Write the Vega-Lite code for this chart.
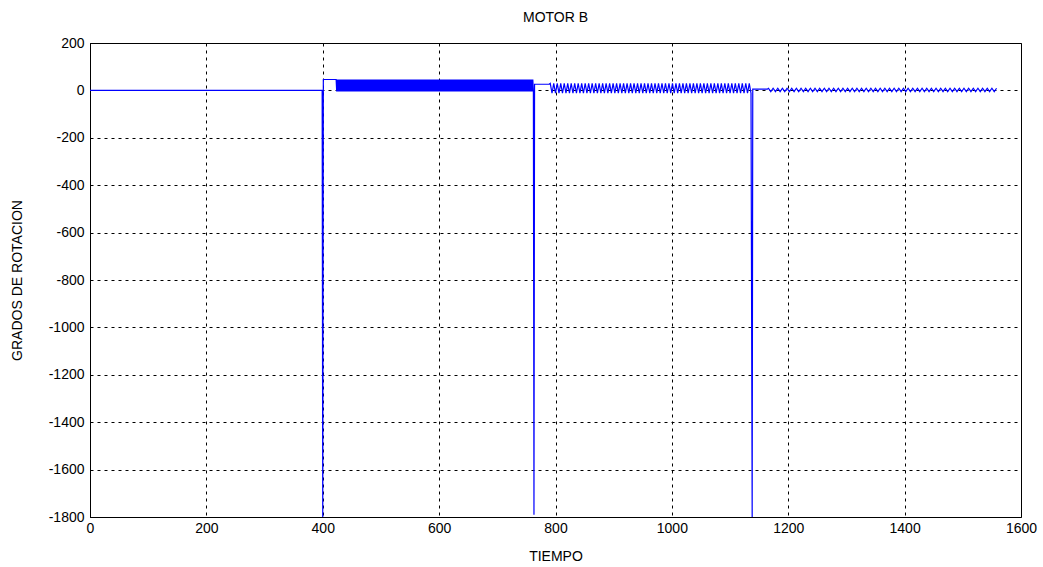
{
"$schema": "https://vega.github.io/schema/vega-lite/v6.json",
"width": 931, "height": 474,
"autosize": {"type": "none"},
"padding": {"left": 90, "top": 43, "right": 22, "bottom": 50},
"background": "white",
"config": {"font": "Liberation Sans", "view": {"stroke": "black", "strokeWidth": 1}},
"title": {"text": "MOTOR B", "fontSize": 14, "fontWeight": "normal", "font": "Liberation Sans", "color": "black", "offset": 11, "anchor": "middle"},
"data": {"values": [
{"t":0,"v":0},{"t":399,"v":0},{"t":400,"v":-1800},{"t":401,"v":46},{"t":423,"v":46},
{"t":424,"v":-4},{"t":425,"v":46},{"t":426,"v":-4},{"t":427,"v":46},{"t":428,"v":-4},{"t":429,"v":46},{"t":430,"v":-4},{"t":431,"v":46},{"t":432,"v":-4},{"t":433,"v":46},
{"t":434,"v":-4},{"t":435,"v":46},{"t":436,"v":-4},{"t":437,"v":46},{"t":438,"v":-4},{"t":439,"v":46},{"t":440,"v":-4},{"t":441,"v":46},{"t":442,"v":-4},{"t":443,"v":46},
{"t":444,"v":-4},{"t":445,"v":46},{"t":446,"v":-4},{"t":447,"v":46},{"t":448,"v":-4},{"t":449,"v":46},{"t":450,"v":-4},{"t":451,"v":46},{"t":452,"v":-4},{"t":453,"v":46},
{"t":454,"v":-4},{"t":455,"v":46},{"t":456,"v":-4},{"t":457,"v":46},{"t":458,"v":-4},{"t":459,"v":46},{"t":460,"v":-4},{"t":461,"v":46},{"t":462,"v":-4},{"t":463,"v":46},
{"t":464,"v":-4},{"t":465,"v":46},{"t":466,"v":-4},{"t":467,"v":46},{"t":468,"v":-4},{"t":469,"v":46},{"t":470,"v":-4},{"t":471,"v":46},{"t":472,"v":-4},{"t":473,"v":46},
{"t":474,"v":-4},{"t":475,"v":46},{"t":476,"v":-4},{"t":477,"v":46},{"t":478,"v":-4},{"t":479,"v":46},{"t":480,"v":-4},{"t":481,"v":46},{"t":482,"v":-4},{"t":483,"v":46},
{"t":484,"v":-4},{"t":485,"v":46},{"t":486,"v":-4},{"t":487,"v":46},{"t":488,"v":-4},{"t":489,"v":46},{"t":490,"v":-4},{"t":491,"v":46},{"t":492,"v":-4},{"t":493,"v":46},
{"t":494,"v":-4},{"t":495,"v":46},{"t":496,"v":-4},{"t":497,"v":46},{"t":498,"v":-4},{"t":499,"v":46},{"t":500,"v":-4},{"t":501,"v":46},{"t":502,"v":-4},{"t":503,"v":46},
{"t":504,"v":-4},{"t":505,"v":46},{"t":506,"v":-4},{"t":507,"v":46},{"t":508,"v":-4},{"t":509,"v":46},{"t":510,"v":-4},{"t":511,"v":46},{"t":512,"v":-4},{"t":513,"v":46},
{"t":514,"v":-4},{"t":515,"v":46},{"t":516,"v":-4},{"t":517,"v":46},{"t":518,"v":-4},{"t":519,"v":46},{"t":520,"v":-4},{"t":521,"v":46},{"t":522,"v":-4},{"t":523,"v":46},
{"t":524,"v":-4},{"t":525,"v":46},{"t":526,"v":-4},{"t":527,"v":46},{"t":528,"v":-4},{"t":529,"v":46},{"t":530,"v":-4},{"t":531,"v":46},{"t":532,"v":-4},{"t":533,"v":46},
{"t":534,"v":-4},{"t":535,"v":46},{"t":536,"v":-4},{"t":537,"v":46},{"t":538,"v":-4},{"t":539,"v":46},{"t":540,"v":-4},{"t":541,"v":46},{"t":542,"v":-4},{"t":543,"v":46},
{"t":544,"v":-4},{"t":545,"v":46},{"t":546,"v":-4},{"t":547,"v":46},{"t":548,"v":-4},{"t":549,"v":46},{"t":550,"v":-4},{"t":551,"v":46},{"t":552,"v":-4},{"t":553,"v":46},
{"t":554,"v":-4},{"t":555,"v":46},{"t":556,"v":-4},{"t":557,"v":46},{"t":558,"v":-4},{"t":559,"v":46},{"t":560,"v":-4},{"t":561,"v":46},{"t":562,"v":-4},{"t":563,"v":46},
{"t":564,"v":-4},{"t":565,"v":46},{"t":566,"v":-4},{"t":567,"v":46},{"t":568,"v":-4},{"t":569,"v":46},{"t":570,"v":-4},{"t":571,"v":46},{"t":572,"v":-4},{"t":573,"v":46},
{"t":574,"v":-4},{"t":575,"v":46},{"t":576,"v":-4},{"t":577,"v":46},{"t":578,"v":-4},{"t":579,"v":46},{"t":580,"v":-4},{"t":581,"v":46},{"t":582,"v":-4},{"t":583,"v":46},
{"t":584,"v":-4},{"t":585,"v":46},{"t":586,"v":-4},{"t":587,"v":46},{"t":588,"v":-4},{"t":589,"v":46},{"t":590,"v":-4},{"t":591,"v":46},{"t":592,"v":-4},{"t":593,"v":46},
{"t":594,"v":-4},{"t":595,"v":46},{"t":596,"v":-4},{"t":597,"v":46},{"t":598,"v":-4},{"t":599,"v":46},{"t":600,"v":-4},{"t":601,"v":46},{"t":602,"v":-4},{"t":603,"v":46},
{"t":604,"v":-4},{"t":605,"v":46},{"t":606,"v":-4},{"t":607,"v":46},{"t":608,"v":-4},{"t":609,"v":46},{"t":610,"v":-4},{"t":611,"v":46},{"t":612,"v":-4},{"t":613,"v":46},
{"t":614,"v":-4},{"t":615,"v":46},{"t":616,"v":-4},{"t":617,"v":46},{"t":618,"v":-4},{"t":619,"v":46},{"t":620,"v":-4},{"t":621,"v":46},{"t":622,"v":-4},{"t":623,"v":46},
{"t":624,"v":-4},{"t":625,"v":46},{"t":626,"v":-4},{"t":627,"v":46},{"t":628,"v":-4},{"t":629,"v":46},{"t":630,"v":-4},{"t":631,"v":46},{"t":632,"v":-4},{"t":633,"v":46},
{"t":634,"v":-4},{"t":635,"v":46},{"t":636,"v":-4},{"t":637,"v":46},{"t":638,"v":-4},{"t":639,"v":46},{"t":640,"v":-4},{"t":641,"v":46},{"t":642,"v":-4},{"t":643,"v":46},
{"t":644,"v":-4},{"t":645,"v":46},{"t":646,"v":-4},{"t":647,"v":46},{"t":648,"v":-4},{"t":649,"v":46},{"t":650,"v":-4},{"t":651,"v":46},{"t":652,"v":-4},{"t":653,"v":46},
{"t":654,"v":-4},{"t":655,"v":46},{"t":656,"v":-4},{"t":657,"v":46},{"t":658,"v":-4},{"t":659,"v":46},{"t":660,"v":-4},{"t":661,"v":46},{"t":662,"v":-4},{"t":663,"v":46},
{"t":664,"v":-4},{"t":665,"v":46},{"t":666,"v":-4},{"t":667,"v":46},{"t":668,"v":-4},{"t":669,"v":46},{"t":670,"v":-4},{"t":671,"v":46},{"t":672,"v":-4},{"t":673,"v":46},
{"t":674,"v":-4},{"t":675,"v":46},{"t":676,"v":-4},{"t":677,"v":46},{"t":678,"v":-4},{"t":679,"v":46},{"t":680,"v":-4},{"t":681,"v":46},{"t":682,"v":-4},{"t":683,"v":46},
{"t":684,"v":-4},{"t":685,"v":46},{"t":686,"v":-4},{"t":687,"v":46},{"t":688,"v":-4},{"t":689,"v":46},{"t":690,"v":-4},{"t":691,"v":46},{"t":692,"v":-4},{"t":693,"v":46},
{"t":694,"v":-4},{"t":695,"v":46},{"t":696,"v":-4},{"t":697,"v":46},{"t":698,"v":-4},{"t":699,"v":46},{"t":700,"v":-4},{"t":701,"v":46},{"t":702,"v":-4},{"t":703,"v":46},
{"t":704,"v":-4},{"t":705,"v":46},{"t":706,"v":-4},{"t":707,"v":46},{"t":708,"v":-4},{"t":709,"v":46},{"t":710,"v":-4},{"t":711,"v":46},{"t":712,"v":-4},{"t":713,"v":46},
{"t":714,"v":-4},{"t":715,"v":46},{"t":716,"v":-4},{"t":717,"v":46},{"t":718,"v":-4},{"t":719,"v":46},{"t":720,"v":-4},{"t":721,"v":46},{"t":722,"v":-4},{"t":723,"v":46},
{"t":724,"v":-4},{"t":725,"v":46},{"t":726,"v":-4},{"t":727,"v":46},{"t":728,"v":-4},{"t":729,"v":46},{"t":730,"v":-4},{"t":731,"v":46},{"t":732,"v":-4},{"t":733,"v":46},
{"t":734,"v":-4},{"t":735,"v":46},{"t":736,"v":-4},{"t":737,"v":46},{"t":738,"v":-4},{"t":739,"v":46},{"t":740,"v":-4},{"t":741,"v":46},{"t":742,"v":-4},{"t":743,"v":46},
{"t":744,"v":-4},{"t":745,"v":46},{"t":746,"v":-4},{"t":747,"v":46},{"t":748,"v":-4},{"t":749,"v":46},{"t":750,"v":-4},{"t":751,"v":46},{"t":752,"v":-4},{"t":753,"v":46},
{"t":754,"v":-4},{"t":755,"v":46},{"t":756,"v":-4},{"t":757,"v":46},{"t":758,"v":-4},{"t":759,"v":46},{"t":760,"v":-4},{"t":761,"v":46},{"t":762,"v":-4},
{"t":763,"v":-1790},{"t":764,"v":26},{"t":789,"v":26},
{"t":791,"v":30},{"t":794,"v":-12},{"t":797,"v":30},{"t":800,"v":-12},{"t":803,"v":30},{"t":806,"v":-12},{"t":809,"v":30},{"t":812,"v":-12},{"t":815,"v":30},{"t":818,"v":-12},
{"t":821,"v":30},{"t":824,"v":-12},{"t":827,"v":30},{"t":830,"v":-12},{"t":833,"v":30},{"t":836,"v":-12},{"t":839,"v":30},{"t":842,"v":-12},{"t":845,"v":30},{"t":848,"v":-12},
{"t":851,"v":30},{"t":854,"v":-12},{"t":857,"v":30},{"t":860,"v":-12},{"t":863,"v":30},{"t":866,"v":-12},{"t":869,"v":30},{"t":872,"v":-12},{"t":875,"v":30},{"t":878,"v":-12},
{"t":881,"v":30},{"t":884,"v":-12},{"t":887,"v":30},{"t":890,"v":-12},{"t":893,"v":30},{"t":896,"v":-12},{"t":899,"v":30},{"t":902,"v":-12},{"t":905,"v":30},{"t":908,"v":-12},
{"t":911,"v":30},{"t":914,"v":-12},{"t":917,"v":30},{"t":920,"v":-12},{"t":923,"v":30},{"t":926,"v":-12},{"t":929,"v":30},{"t":932,"v":-12},{"t":935,"v":30},{"t":938,"v":-12},
{"t":941,"v":30},{"t":944,"v":-12},{"t":947,"v":30},{"t":950,"v":-12},{"t":953,"v":30},{"t":956,"v":-12},{"t":959,"v":30},{"t":962,"v":-12},{"t":965,"v":30},{"t":968,"v":-12},
{"t":971,"v":30},{"t":974,"v":-12},{"t":977,"v":30},{"t":980,"v":-12},{"t":983,"v":30},{"t":986,"v":-12},{"t":989,"v":30},{"t":992,"v":-12},{"t":995,"v":30},{"t":998,"v":-12},
{"t":1001,"v":30},{"t":1004,"v":-12},{"t":1007,"v":30},{"t":1010,"v":-12},{"t":1013,"v":30},{"t":1016,"v":-12},{"t":1019,"v":30},{"t":1022,"v":-12},{"t":1025,"v":30},{"t":1028,"v":-12},
{"t":1031,"v":30},{"t":1034,"v":-12},{"t":1037,"v":30},{"t":1040,"v":-12},{"t":1043,"v":30},{"t":1046,"v":-12},{"t":1049,"v":30},{"t":1052,"v":-12},{"t":1055,"v":30},{"t":1058,"v":-12},
{"t":1061,"v":30},{"t":1064,"v":-12},{"t":1067,"v":30},{"t":1070,"v":-12},{"t":1073,"v":30},{"t":1076,"v":-12},{"t":1079,"v":30},{"t":1082,"v":-12},{"t":1085,"v":30},{"t":1088,"v":-12},
{"t":1091,"v":30},{"t":1094,"v":-12},{"t":1097,"v":30},{"t":1100,"v":-12},{"t":1103,"v":30},{"t":1106,"v":-12},{"t":1109,"v":30},{"t":1112,"v":-12},{"t":1115,"v":30},{"t":1118,"v":-12},
{"t":1121,"v":30},{"t":1124,"v":-12},{"t":1127,"v":30},{"t":1130,"v":-12},{"t":1133,"v":30},{"t":1136,"v":-12},
{"t":1138,"v":-1800},{"t":1139,"v":5},{"t":1164,"v":5},
{"t":1166,"v":9},{"t":1170,"v":-5},{"t":1174,"v":9},{"t":1178,"v":-5},{"t":1182,"v":9},{"t":1186,"v":-5},{"t":1190,"v":9},{"t":1194,"v":-5},{"t":1198,"v":9},{"t":1202,"v":-5},
{"t":1206,"v":9},{"t":1210,"v":-5},{"t":1214,"v":9},{"t":1218,"v":-5},{"t":1222,"v":9},{"t":1226,"v":-5},{"t":1230,"v":9},{"t":1234,"v":-5},{"t":1238,"v":9},{"t":1242,"v":-5},
{"t":1246,"v":9},{"t":1250,"v":-5},{"t":1254,"v":9},{"t":1258,"v":-5},{"t":1262,"v":9},{"t":1266,"v":-5},{"t":1270,"v":9},{"t":1274,"v":-5},{"t":1278,"v":9},{"t":1282,"v":-5},
{"t":1286,"v":9},{"t":1290,"v":-5},{"t":1294,"v":9},{"t":1298,"v":-5},{"t":1302,"v":9},{"t":1306,"v":-5},{"t":1310,"v":9},{"t":1314,"v":-5},{"t":1318,"v":9},{"t":1322,"v":-5},
{"t":1326,"v":9},{"t":1330,"v":-5},{"t":1334,"v":9},{"t":1338,"v":-5},{"t":1342,"v":9},{"t":1346,"v":-5},{"t":1350,"v":9},{"t":1354,"v":-5},{"t":1358,"v":9},{"t":1362,"v":-5},
{"t":1366,"v":9},{"t":1370,"v":-5},{"t":1374,"v":9},{"t":1378,"v":-5},{"t":1382,"v":9},{"t":1386,"v":-5},{"t":1390,"v":9},{"t":1394,"v":-5},{"t":1398,"v":9},{"t":1402,"v":-5},
{"t":1406,"v":9},{"t":1410,"v":-5},{"t":1414,"v":9},{"t":1418,"v":-5},{"t":1422,"v":9},{"t":1426,"v":-5},{"t":1430,"v":9},{"t":1434,"v":-5},{"t":1438,"v":9},{"t":1442,"v":-5},
{"t":1446,"v":9},{"t":1450,"v":-5},{"t":1454,"v":9},{"t":1458,"v":-5},{"t":1462,"v":9},{"t":1466,"v":-5},{"t":1470,"v":9},{"t":1474,"v":-5},{"t":1478,"v":9},{"t":1482,"v":-5},
{"t":1486,"v":9},{"t":1490,"v":-5},{"t":1494,"v":9},{"t":1498,"v":-5},{"t":1502,"v":9},{"t":1506,"v":-5},{"t":1510,"v":9},{"t":1514,"v":-5},{"t":1518,"v":9},{"t":1522,"v":-5},
{"t":1526,"v":9},{"t":1530,"v":-5},{"t":1534,"v":9},{"t":1538,"v":-5},{"t":1542,"v":9},{"t":1546,"v":-5},{"t":1550,"v":9},{"t":1554,"v":-5},{"t":1558,"v":9}
]},
"mark": {"type": "line", "color": "#0000ff", "strokeWidth": 1.2, "clip": true},
"encoding": {
"x": {"field": "t", "type": "quantitative", "scale": {"domain": [0, 1600], "nice": false, "zero": false},
 "axis": {"title": "TIEMPO", "values": [0,200,400,600,800,1000,1200,1400,1600], "labelExpr": "'' + datum.value", "grid": true, "gridColor": "black", "gridDash": [3,4], "gridOpacity": 1, "gridWidth": 1,
  "domainColor": "black", "domainWidth": 1, "ticks": false, "labelFontSize": 14, "labelColor": "black", "labelPadding": 4, "labelFont": "Liberation Sans",
  "titleFontSize": 14, "titleFontWeight": "normal", "titleColor": "black", "titlePadding": 14, "titleFont": "Liberation Sans", "labelFlush": false}},
"y": {"field": "v", "type": "quantitative", "scale": {"domain": [-1800, 200], "nice": false, "zero": false},
 "axis": {"title": "GRADOS DE ROTACION", "values": [-1800,-1600,-1400,-1200,-1000,-800,-600,-400,-200,0,200], "labelExpr": "'' + datum.value", "grid": true, "gridColor": "black", "gridDash": [3,4], "gridOpacity": 1, "gridWidth": 1,
  "domainColor": "black", "domainWidth": 1, "ticks": false, "labelFontSize": 14, "labelColor": "black", "labelPadding": 6, "labelFont": "Liberation Sans",
  "titleFontSize": 14, "titleFontWeight": "normal", "titleColor": "black", "titlePadding": 24, "titleFont": "Liberation Sans", "labelFlush": false}}
}
}
